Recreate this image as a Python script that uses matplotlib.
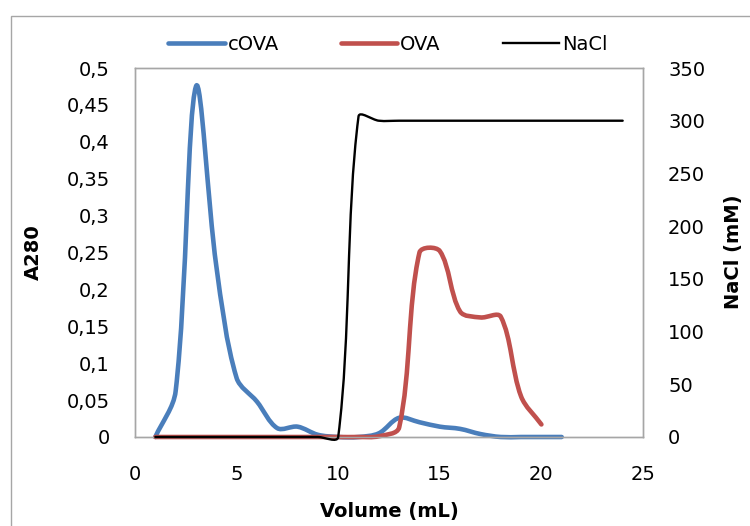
import numpy as np
import matplotlib
matplotlib.use("Agg")
import matplotlib.pyplot as plt
from matplotlib.path import Path
from matplotlib.patches import PathPatch, Rectangle
from matplotlib.lines import Line2D
from matplotlib.ticker import FuncFormatter

plt.rcParams['font.family'] = ['DejaVu Sans']
plt.rcParams['font.size'] = 14

# Fractions collectees (mL) et absorbance a 280 nm
vol_cova = [1, 2, 3, 4, 5, 6, 7, 8, 9, 10, 11, 12, 13, 14, 15, 16, 17, 18, 19, 20, 21]
a280_cova = [0, 0.062, 0.475, 0.232, 0.08, 0.048, 0.012, 0.014, 0.003, 0, 0,
             0.005, 0.026, 0.02, 0.014, 0.011, 0.004, 0, 0, 0, 0]

vol_ova = [1, 2, 3, 4, 5, 6, 7, 8, 9, 10, 11, 12, 13, 14, 15, 16, 17, 18, 19, 20]
a280_ova = [0, 0, 0, 0, 0, 0, 0, 0, 0, 0, 0,
            0.001, 0.013, 0.25, 0.252, 0.17, 0.162, 0.163, 0.055, 0.017]

# Gradient NaCl (mM)
vol_nacl = [1, 2, 3, 4, 5, 6, 7, 8, 9, 10, 11, 12, 13, 14, 15, 16, 17, 18, 19, 20, 21, 22, 23, 24]
nacl_mm = [0, 0, 0, 0, 0, 0, 0, 0, 0, 0, 304, 300, 300, 300, 300, 300,
           300, 300, 300, 300, 300, 300, 300, 300]

BLEU = '#4A7EBB'
ROUGE = '#C0504D'
GRIS = '#A6A6A6'


def courbe_lissee(ax, x, y, **kw):
    # ligne lissee : Bezier cubique, tangentes ponderees par les longueurs en pixels
    pts = ax.transData.transform(np.column_stack([x, y]))
    n = len(pts)
    verts = [pts[0]]
    codes = [Path.MOVETO]
    for i in range(n - 1):
        p0 = pts[max(i - 1, 0)]
        p1 = pts[i]
        p2 = pts[i + 1]
        p3 = pts[min(i + 2, n - 1)]
        d01 = np.hypot(*(p1 - p0))
        d12 = np.hypot(*(p2 - p1))
        d23 = np.hypot(*(p3 - p2))
        c1 = p1 + (p2 - p0) * d12 / (3 * (d01 + d12)) if d01 + d12 > 0 else p1
        c2 = p2 - (p3 - p1) * d12 / (3 * (d12 + d23)) if d12 + d23 > 0 else p2
        verts += [c1, c2, p2]
        codes += [Path.CURVE4] * 3
    verts = ax.transData.inverted().transform(np.array(verts))
    patch = PathPatch(Path(verts, codes), fill=False, capstyle='round',
                      joinstyle='round', clip_on=False, **kw)
    ax.add_patch(patch)
    return patch


fig = plt.figure(figsize=(7.5, 5.26), dpi=100)
ax = fig.add_axes([135 / 750, 89 / 526, 508 / 750, 369 / 526])
ax2 = ax.twinx()

ax.set_xlim(0, 25)
ax.set_ylim(0, 0.5)
ax2.set_ylim(0, 350)
ax.set_xticks(range(0, 26, 5))
ax.set_yticks(np.arange(0, 0.501, 0.05))
ax2.set_yticks(range(0, 351, 50))
ax.yaxis.set_major_formatter(FuncFormatter(lambda v, p: f"{round(v, 2):g}".replace('.', ',')))

for a in (ax, ax2):
    for s in a.spines.values():
        s.set_color(GRIS)
        s.set_linewidth(1.0)
ax.tick_params(axis='y', length=0, pad=18)
ax.tick_params(axis='x', length=0, pad=20)
ax2.tick_params(axis='y', length=0, pad=18)

courbe_lissee(ax, vol_cova, a280_cova, color=BLEU, lw=3.3, zorder=2)
courbe_lissee(ax, vol_ova, a280_ova, color=ROUGE, lw=3.3, zorder=3)
courbe_lissee(ax2, vol_nacl, nacl_mm, color='black', lw=1.7, zorder=4)

fig.text(33 / 750, 1 - 252 / 526, 'A280', rotation=90, ha='center', va='center',
         fontweight='bold')
fig.text(734 / 750, 1 - 252 / 526, 'NaCl (mM)', rotation=90, ha='center', va='center',
         fontweight='bold')
fig.text(389 / 750, 1 - 512 / 526, 'Volume (mL)', ha='center', va='center',
         fontweight='bold')

poignees = [Line2D([], [], color=BLEU, lw=3.3, solid_capstyle='round'),
            Line2D([], [], color=ROUGE, lw=3.3, solid_capstyle='round'),
            Line2D([], [], color='black', lw=1.7)]
fig.legend(poignees, ['cOVA', 'OVA', 'NaCl'], loc='center', ncol=3, frameon=False,
           bbox_to_anchor=(388 / 750, 1 - 44 / 526), handlelength=2.9,
           handletextpad=0.15, columnspacing=3.2, borderaxespad=0)

# cadre de la zone du graphique
fig.patches.append(Rectangle((11 / 750, -0.1), 1.2, 1 - 16 / 526 + 0.1,
                             transform=fig.transFigure, fill=False,
                             edgecolor=GRIS, lw=1.0))

fig.savefig('out.png', dpi=100)
